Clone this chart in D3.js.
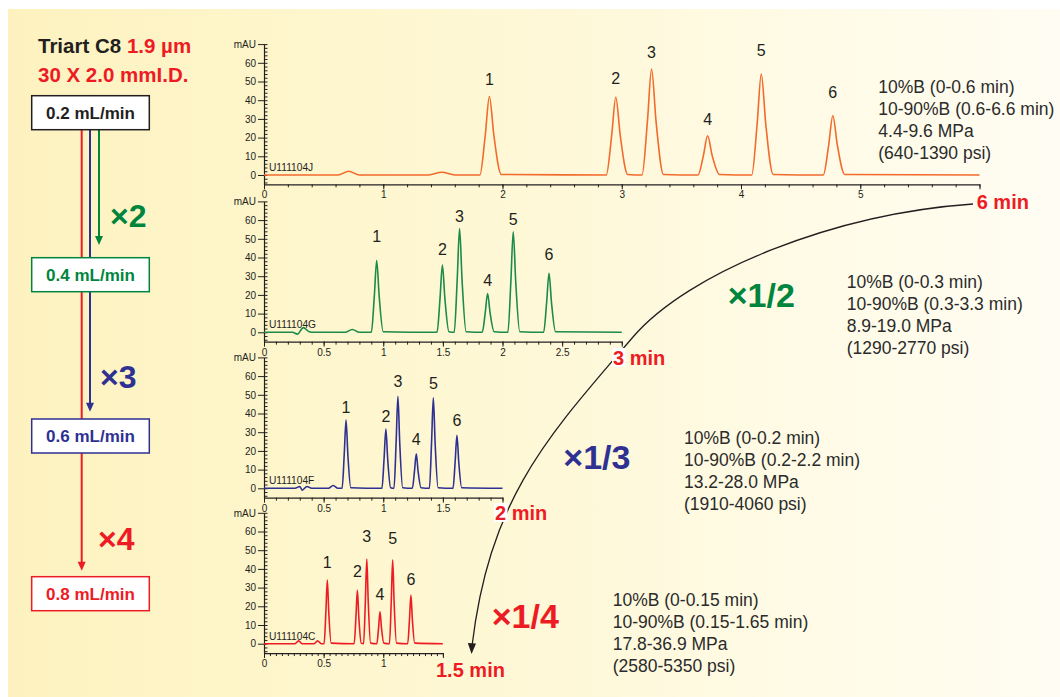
<!DOCTYPE html>
<html>
<head>
<meta charset="utf-8">
<script src="https://cdn.jsdelivr.net/npm/d3@7"></script>
<style>
body { margin: 0; background: #fff; }
svg { display: block; font-family: "Liberation Sans", Arial, Helvetica, sans-serif; }
</style>
</head>
<body>
<div id="chart"></div>
<script>
// ---- data ----
var columnName = "Triart C8";
var particleSize = "1.9 µm";
var columnSize = "30 X 2.0 mmI.D.";
var flowRates = ["0.2 mL/min", "0.4 mL/min", "0.6 mL/min", "0.8 mL/min"];
var flowFactors = ["×2", "×3", "×4"];
var timeFactors = ["×1/2", "×1/3", "×1/4"];
var runTimes = ["6 min", "3 min", "2 min", "1.5 min"];
var runIds = ["U111104J", "U111104G", "U111104F", "U111104C"];
var runSpans = [6, 3, 2, 1.5];          // x axis length, min
var majorStep = [1, 0.5, 0.5, 0.5];
var minorStep = [0.2, 0.1, 0.1, 0.05];

var gradJ = ["10%B (0-0.6 min)", "10-90%B (0.6-6.6 min)", "4.4-9.6 MPa", "(640-1390 psi)"];
var gradG = ["10%B (0-0.3 min)", "10-90%B (0.3-3.3 min)", "8.9-19.0 MPa", "(1290-2770 psi)"];
var gradF = ["10%B (0-0.2 min)", "10-90%B (0.2-2.2 min)", "13.2-28.0 MPa", "(1910-4060 psi)"];
var gradC = ["10%B (0-0.15 min)", "10-90%B (0.15-1.65 min)", "17.8-36.9 MPa", "(2580-5350 psi)"];

// peak apex times (min) and where the peak number sits (mAU)
var peakTimesJ = [1.89, 2.95, 3.25, 3.72, 4.17, 4.77];
var labelLevelJ = [51, 52, 65.6, 29.8, 66.5, 44.3];
var peakTimesG = [0.945, 1.496, 1.64, 1.875, 2.09, 2.39];
var labelLevelG = [51.2, 44.6, 61.9, 27.6, 60.2, 41.9];
var peakTimesF = [0.688, 1.022, 1.123, 1.277, 1.42, 1.618];
var labelLevelF = [43.3, 38.5, 57, 26.3, 56.1, 36.3];
var peakTimesC = [0.531, 0.783, 0.862, 0.973, 1.079, 1.232];
var labelLevelC = [43.5, 38.5, 57.6, 26.4, 56.4, 34.6];

// traces [min, mAU]
var traceJ = [[0,0],[0.62,0],[0.71,2],[0.8,0],[1.38,0],[1.49,1.5],[1.6,0],
  [1.81,0],[1.855,21],[1.89,42],[1.928,21],[1.99,0.3],
  [2.87,0],[2.915,20.8],[2.95,41.6],[2.988,20.8],[3.05,0.3],
  [3.17,0],[3.215,28.4],[3.25,56.7],[3.288,28.4],[3.35,0.3],
  [3.64,0],[3.685,10.5],[3.72,21],[3.758,10.5],[3.82,0.3],
  [4.09,0],[4.135,27],[4.17,54],[4.208,27],[4.27,0.3],
  [4.69,0],[4.735,15.9],[4.77,31.7],[4.808,15.9],[4.87,0.3],
  [6,0]];
var traceG = [[0,0],[0.24,0],[0.28,-1],[0.33,2.5],[0.38,0.3],[0.42,0],[0.68,0],[0.74,1.5],[0.8,0],
  [0.9,0],[0.925,19.2],[0.945,38.4],[0.966,19.2],[1.0,0.3],
  [1.451,0],[1.476,18],[1.496,36],[1.517,18],[1.551,0.3],
  [1.595,0],[1.62,27.8],[1.64,55.5],[1.661,27.8],[1.695,0.3],
  [1.83,0],[1.855,10.4],[1.875,20.7],[1.896,10.4],[1.93,0.3],
  [2.045,0],[2.07,26.9],[2.09,53.7],[2.111,26.9],[2.145,0.3],
  [2.345,0],[2.37,15.8],[2.39,31.6],[2.411,15.8],[2.445,0.3],
  [3,0]];
var traceF = [[0,0],[0.26,0],[0.3,1],[0.32,-1],[0.36,1],[0.4,0],[0.54,0],[0.58,1.5],[0.62,0],
  [0.655,0],[0.673,18.3],[0.688,36.5],[0.703,18.3],[0.728,0.3],
  [0.989,0],[1.007,15.9],[1.022,31.7],[1.037,15.9],[1.062,0.3],
  [1.09,0],[1.108,24.6],[1.123,49.2],[1.138,24.6],[1.163,0.3],
  [1.244,0],[1.262,9.2],[1.277,18.4],[1.292,9.2],[1.317,0.3],
  [1.387,0],[1.405,24.2],[1.42,48.4],[1.435,24.2],[1.46,0.3],
  [1.585,0],[1.603,14.2],[1.618,28.3],[1.633,14.2],[1.658,0.3],
  [2,0]];
var traceC = [[0,0],[0.26,0],[0.29,1.5],[0.32,0],[0.42,0],[0.45,1.5],[0.48,0],
  [0.504,0],[0.519,17],[0.531,34],[0.543,17],[0.563,0.3],
  [0.756,0],[0.771,14.3],[0.783,28.5],[0.795,14.3],[0.815,0.3],
  [0.835,0],[0.85,22.7],[0.862,45.3],[0.874,22.7],[0.894,0.3],
  [0.946,0],[0.961,8.6],[0.973,17.1],[0.985,8.6],[1.005,0.3],
  [1.052,0],[1.067,22.4],[1.079,44.8],[1.091,22.4],[1.111,0.3],
  [1.205,0],[1.22,13],[1.232,26],[1.244,13],[1.264,0.3],
  [1.5,0]];

// ---- layout ----
var W = 1060, H = 697;
var FONT = "Liberation Sans, Arial, Helvetica, sans-serif";
var runColors = ["#f26a2c", "#1b8a4a", "#2e3192", "#ed1c24"];
var textColors = ["#231f20", "#00853e", "#2e3192", "#ed1c24"];
var plotLeft = 264, pxPerMin = 119.25, pxPerMAU = 1.87;
var zeroY = [175, 332.3, 488.3, 643.7];

var svg = d3.select("#chart").append("svg")
    .attr("width", W)
    .attr("height", H);

var defs = svg.append("defs");
var bg = defs.append("linearGradient").attr("id", "bg")
    .attr("x1", 0).attr("x2", 1).attr("y1", 0).attr("y2", 0);
bg.append("stop").attr("offset", "0%").attr("stop-color", "#fdf2bf");
bg.append("stop").attr("offset", "40%").attr("stop-color", "#fef7d2");
bg.append("stop").attr("offset", "100%").attr("stop-color", "#fffdf3");

svg.append("rect").attr("width", W).attr("height", H).attr("fill", "#fff");
svg.append("rect").attr("x", 8).attr("y", 9).attr("width", W - 8).attr("height", H - 9)
    .attr("fill", "url(#bg)");

// ---- left flow diagram ----
var left = svg.append("g");
var title = left.append("text").attr("x", 38).attr("y", 53)
    .attr("font-size", 20.5).attr("font-weight", "bold");
title.append("tspan").attr("fill", "#231f20").text(columnName + " ");
title.append("tspan").attr("fill", "#ed1c24").text(particleSize);
left.append("text").attr("x", 38).attr("y", 82)
    .attr("font-size", 20.5).attr("font-weight", "bold").attr("fill", "#ed1c24")
    .text(columnSize);

var boxX = 31.7, boxW = 117.6, boxH = 34;
var boxTop = [95.7, 257.7, 419, 576.7];
var lineX = [99, 90, 81.7];          // green, blue, red guide lines
var arrowTip = [245, 411.7, 570.7];

function arrowDown(g, x, y1, y2, color) {
    g.append("line").attr("x1", x).attr("x2", x).attr("y1", y1).attr("y2", y2 - 7)
        .attr("stroke", color).attr("stroke-width", 2);
    g.append("path")
        .attr("d", "M" + (x - 4) + "," + (y2 - 9) + "L" + (x + 4) + "," + (y2 - 9) + "L" + x + "," + y2 + "Z")
        .attr("fill", color);
}
for (var k = 0; k < 3; k++) {
    arrowDown(left, lineX[k], boxTop[0] + boxH, arrowTip[k], textColors[k + 1]);
}

flowRates.forEach(function(f, i) {
    left.append("rect").attr("x", boxX).attr("y", boxTop[i])
        .attr("width", boxW).attr("height", boxH)
        .attr("fill", "#fff").attr("stroke", textColors[i]).attr("stroke-width", 1.5);
    left.append("text").attr("x", boxX + boxW / 2).attr("y", boxTop[i] + boxH / 2 + 6)
        .attr("text-anchor", "middle").attr("font-size", 17).attr("font-weight", "bold")
        .attr("fill", textColors[i]).text(f);
});

var factorPos = [[110, 227], [100, 388], [98, 550]];
flowFactors.forEach(function(f, i) {
    left.append("text").attr("x", factorPos[i][0]).attr("y", factorPos[i][1])
        .attr("font-size", 32).attr("font-weight", "bold")
        .attr("fill", textColors[i + 1]).text(f);
});

// ---- chromatograms ----
var traces = [traceJ, traceG, traceF, traceC];
var peakTimes = [peakTimesJ, peakTimesG, peakTimesF, peakTimesC];
var labelLevels = [labelLevelJ, labelLevelG, labelLevelF, labelLevelC];

function drawPanel(i) {
    var span = runSpans[i];
    var x = d3.scaleLinear().domain([0, span]).range([plotLeft, plotLeft + span * pxPerMin]);
    var y = d3.scaleLinear().domain([-5, 70])
        .range([zeroY[i] + 5 * pxPerMAU, zeroY[i] - 70 * pxPerMAU]);
    var g = svg.append("g");

    // y axis
    var yAxisG = g.append("g").attr("transform", "translate(" + plotLeft + ",0)")
        .call(d3.axisLeft(y).tickValues(d3.range(0, 71, 10)).tickSize(6).tickPadding(2)
            .tickSizeOuter(0)
            .tickFormat(function(d) { return d === 70 ? "mAU" : d; }));
    g.append("g").attr("transform", "translate(" + plotLeft + ",0)")
        .call(d3.axisRight(y).tickValues(d3.range(-4, 71, 2)).tickSize(3.5).tickFormat(""))
        .select(".domain").remove();

    // x axis
    var majors = d3.range(0, span + 1e-9, majorStep[i]);
    var fmt = d3.format("~g");
    var xAxisG = g.append("g").attr("transform", "translate(0," + y(-5) + ")")
        .call(d3.axisBottom(x).tickValues(majors).tickSize(5).tickPadding(2).tickSizeOuter(0)
            .tickFormat(function(d) { return Math.abs(d - span) < 1e-6 ? "" : fmt(d); }));
    g.append("g").attr("transform", "translate(0," + y(-5) + ")")
        .call(d3.axisBottom(x).tickValues(d3.range(0, span + 1e-9, minorStep[i])).tickSize(3).tickFormat(""))
        .select(".domain").remove();

    g.selectAll(".domain").attr("stroke", "#231f20").attr("stroke-width", 1.2);
    g.selectAll(".tick line").attr("stroke", "#231f20");
    [yAxisG, xAxisG].forEach(function(a) {
        a.attr("font-family", FONT).attr("font-size", 10);
        a.selectAll("text").attr("fill", "#231f20");
    });

    // trace
    var line = d3.line()
        .x(function(d) { return x(d[0]); })
        .y(function(d) { return y(d[1]); })
        .curve(d3.curveMonotoneX);
    g.append("path").datum(traces[i])
        .attr("d", line)
        .attr("fill", "none")
        .attr("stroke", runColors[i])
        .attr("stroke-width", 1.6)
        .attr("stroke-linejoin", "round");

    // peak numbers
    g.selectAll("text.peak").data(peakTimes[i]).enter()
        .append("text").attr("class", "peak")
        .attr("x", function(d) { return x(d); })
        .attr("y", function(d, j) { return y(labelLevels[i][j]); })
        .attr("dy", "0.36em")
        .attr("text-anchor", "middle")
        .attr("font-size", 16)
        .attr("fill", "#231f20")
        .text(function(d, j) { return j + 1; });

    g.append("text").attr("x", plotLeft + 5).attr("y", y(0) - 4)
        .attr("font-size", 10.2).attr("fill", "#231f20").text(runIds[i]);
}
for (var p = 0; p < 4; p++) drawPanel(p);

// ---- run-time arc (two joined cubic segments) ----
svg.append("path")
    .attr("d", "M973,204 C833,213.8 688.3,272.4 633,337 C548.5,435.8 490,496 472,646")
    .attr("fill", "none").attr("stroke", "#231f20").attr("stroke-width", 1.3);
svg.append("path").attr("d", "M467.8,643 L476,643.5 L471.6,654 Z").attr("fill", "#231f20");

var runTimePos = [[976.7, 209.3], [613, 365], [495, 520], [436, 676.7]];
runTimes.forEach(function(t, i) {
    var tx = svg.append("text").attr("x", runTimePos[i][0]).attr("y", runTimePos[i][1])
        .attr("font-size", 20).attr("font-weight", "bold").attr("fill", "#ed1c24");
    if (i === 1 || i === 2) {
        svg.insert("rect", function() { return tx.node(); })
            .attr("x", runTimePos[i][0] - 1).attr("y", runTimePos[i][1] - 17)
            .attr("width", 13.5).attr("height", 19).attr("fill", "#fff");
    }
    tx.text(t);
});

var timeFactorPos = [[727.7, 306.7], [563.3, 468.5], [491.7, 628.3]];
timeFactors.forEach(function(f, i) {
    svg.append("text").attr("x", timeFactorPos[i][0]).attr("y", timeFactorPos[i][1])
        .attr("font-size", 34).attr("font-weight", "bold")
        .attr("fill", textColors[i + 1]).text(f);
});

// ---- gradient / pressure notes ----
var notes = [gradJ, gradG, gradF, gradC];
var notePos = [[878.3, 93], [846.7, 287.7], [684, 444.3], [612.7, 605.7]];
notes.forEach(function(lines, i) {
    svg.append("g").selectAll("text").data(lines).enter()
        .append("text")
        .attr("x", notePos[i][0])
        .attr("y", function(d, j) { return notePos[i][1] + j * 22; })
        .attr("font-size", 17.5)
        .attr("fill", "#2b2b2b")
        .text(function(d) { return d; });
});
</script>
</body>
</html>
